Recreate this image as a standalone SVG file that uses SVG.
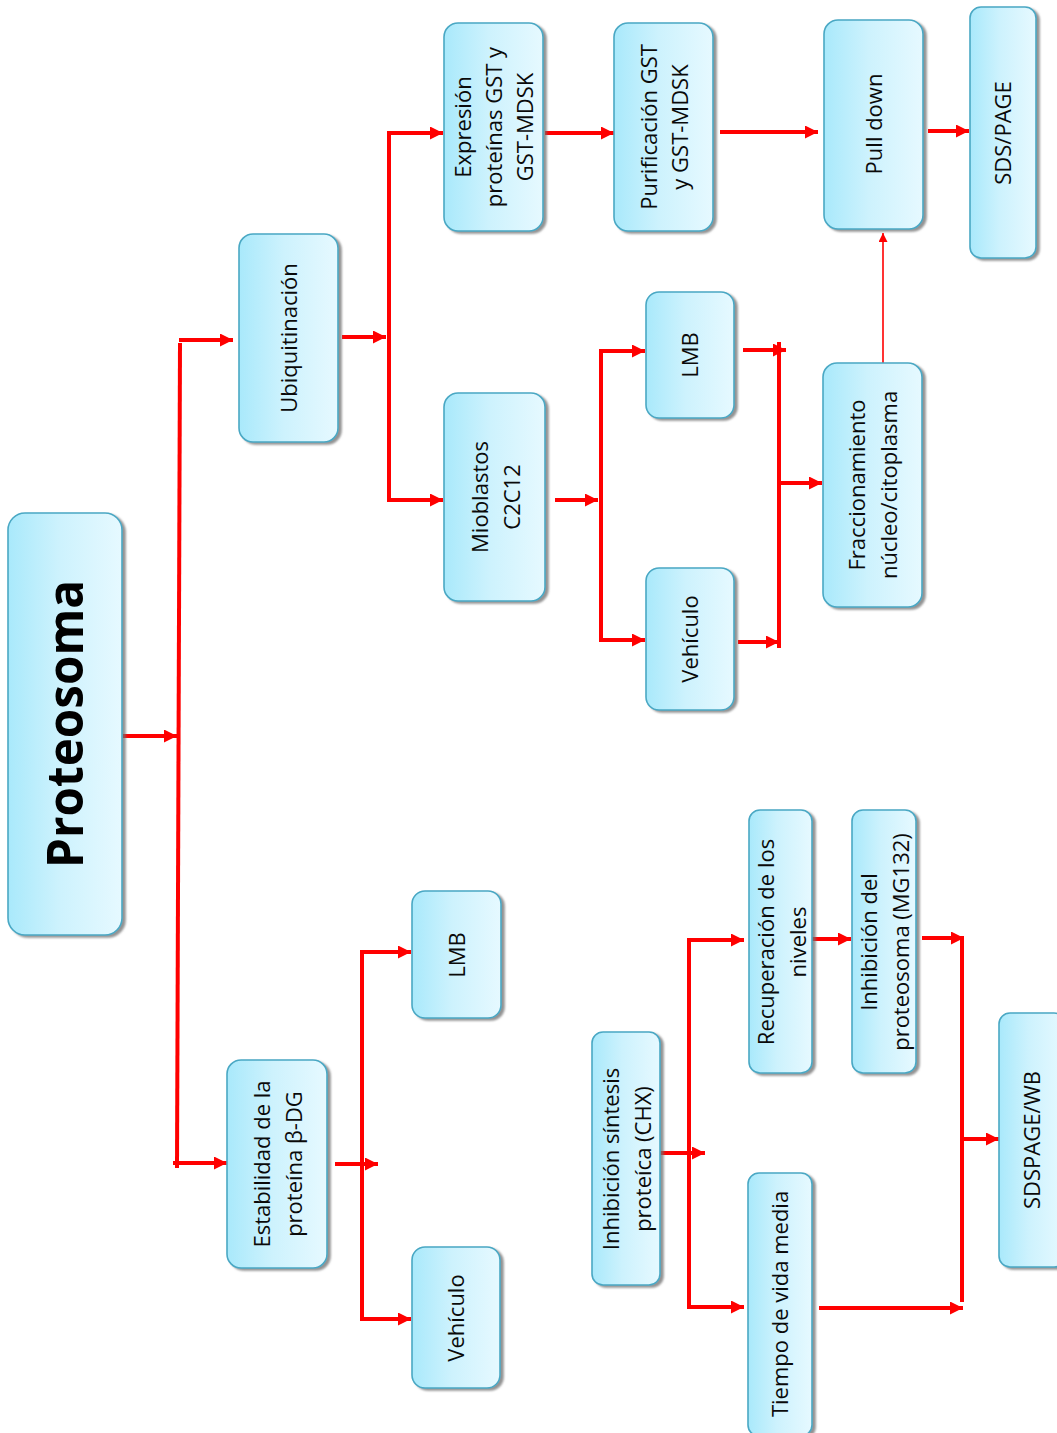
<svg xmlns="http://www.w3.org/2000/svg" width="1057" height="1433" viewBox="0 0 1057 1433">
<defs>
<linearGradient id="g" x1="0" y1="0" x2="1" y2="0">
<stop offset="0" stop-color="#a9e9fb"/>
<stop offset="0.45" stop-color="#cdf2fd"/>
<stop offset="1" stop-color="#e6f9ff"/>
</linearGradient>
<filter id="sh" x="-10%" y="-10%" width="130%" height="130%">
<feDropShadow dx="3" dy="2" stdDeviation="1" flood-color="#6e6e6e" flood-opacity="0.75"/>
</filter>
<marker id="ah" viewBox="0 0 14 14" refX="14" refY="7" markerWidth="14" markerHeight="13" markerUnits="userSpaceOnUse" orient="auto">
<path d="M0,0 L14,7 L0,14 z" fill="#ff0000"/>
</marker>
<marker id="ahs" viewBox="0 0 10 10" refX="10" refY="5" markerWidth="9" markerHeight="9" markerUnits="userSpaceOnUse" orient="auto">
<path d="M0,0 L10,5 L0,10 z" fill="#ff0000"/>
</marker>
</defs>
<style>
.box{fill:url(#g);stroke:#4aa8c4;stroke-width:1.6;filter:url(#sh)}
.t{font-family:"Open Sans","Noto Sans","DejaVu Sans",sans-serif;font-size:22px;fill:#0a0a0a;text-anchor:middle}
.tb{font-family:"Open Sans","Noto Sans","DejaVu Sans",sans-serif;font-size:50px;font-weight:bold;fill:#000;text-anchor:middle}
.c{fill:none;stroke:#ff0000;stroke-width:4}
.ca{fill:none;stroke:#ff0000;stroke-width:4;marker-end:url(#ah)}
.cs{fill:none;stroke:#ff0000;stroke-width:1.6;marker-end:url(#ahs)}
</style>

<g id="connectors">
<path class="ca" d="M123,736 H177"/>
<path class="c" d="M180,343 L177,1168"/>
<path class="ca" d="M179,340 H233"/>
<path class="ca" d="M173,1163 H227"/>
<path class="ca" d="M342,337 H386"/>
<path class="ca" d="M389,502 V133 H443"/>
<path class="ca" d="M389,300 V500 H443"/>
<path class="ca" d="M545,133 H614"/>
<path class="ca" d="M720,132 H818"/>
<path class="ca" d="M928,131 H969"/>
<path class="ca" d="M555,500 H598"/>
<path class="ca" d="M601,500 V351 H645"/>
<path class="ca" d="M601,500 V640 H645"/>
<path class="ca" d="M743,350 H786"/>
<path class="c" d="M779,342 V648"/>
<path class="ca" d="M738,642 H779"/>
<path class="ca" d="M779,483 H822"/>
<path class="cs" d="M883,363 V233"/>
<path class="ca" d="M335,1164 H378"/>
<path class="ca" d="M362,1164 V952 H411"/>
<path class="ca" d="M362,1164 V1319 H411"/>
<path class="ca" d="M660,1153 H705"/>
<path class="ca" d="M689,1153 V940 H744"/>
<path class="ca" d="M689,1153 V1307 H744"/>
<path class="ca" d="M812,939 H851"/>
<path class="ca" d="M922,938 H964"/>
<path class="c" d="M962,936 V1302"/>
<path class="ca" d="M819,1308 H963"/>
<path class="ca" d="M962,1139 H999"/>
</g>

<g id="proteosoma">
<rect class="box" x="8" y="513" width="114" height="422" rx="17"/>
<text class="tb" transform="translate(65,724) rotate(-90)" y="18" textLength="288" lengthAdjust="spacingAndGlyphs">Proteosoma</text>
</g>

<g id="ubiquitinacion">
<rect class="box" x="239" y="234" width="99" height="208" rx="14"/>
<text class="t" transform="translate(289,338) rotate(-90)" y="8">Ubiquitinación</text>
</g>

<g id="estabilidad">
<rect class="box" x="227" y="1060" width="100" height="208" rx="14"/>
<text class="t" transform="translate(278,1164) rotate(-90)"><tspan x="0" y="-8">Estabilidad de la</tspan><tspan x="0" y="24">proteína β-DG</tspan></text>
</g>

<g id="expresion">
<rect class="box" x="444" y="23" width="99" height="208" rx="14"/>
<text class="t" transform="translate(494,127) rotate(-90)"><tspan x="0" y="-23">Expresión</tspan><tspan x="0" y="8">proteínas GST y</tspan><tspan x="0" y="39">GST-MDSK</tspan></text>
</g>

<g id="purificacion">
<rect class="box" x="614" y="23" width="99" height="208" rx="14"/>
<text class="t" transform="translate(665,127) rotate(-90)"><tspan x="0" y="-8">Purificación GST</tspan><tspan x="0" y="23">y GST-MDSK</tspan></text>
</g>

<g id="pulldown">
<rect class="box" x="824" y="20" width="99" height="209" rx="14"/>
<text class="t" transform="translate(874,124) rotate(-90)" y="8">Pull down</text>
</g>

<g id="sdspage">
<rect class="box" x="970" y="7" width="66" height="251" rx="11"/>
<text class="t" transform="translate(1003,133) rotate(-90)" y="8">SDS/PAGE</text>
</g>

<g id="mioblastos">
<rect class="box" x="444" y="393" width="101" height="208" rx="14"/>
<text class="t" transform="translate(496,497) rotate(-90)"><tspan x="0" y="-8">Mioblastos</tspan><tspan x="0" y="24">C2C12</tspan></text>
</g>

<g id="lmb-top">
<rect class="box" x="646" y="292" width="88" height="126" rx="13"/>
<text class="t" transform="translate(690,355) rotate(-90)" y="8">LMB</text>
</g>

<g id="vehiculo-top">
<rect class="box" x="646" y="568" width="88" height="142" rx="13"/>
<text class="t" transform="translate(690,639) rotate(-90)" y="8">Vehículo</text>
</g>

<g id="fraccionamiento">
<rect class="box" x="823" y="363" width="99" height="244" rx="14"/>
<text class="t" transform="translate(874,485) rotate(-90)"><tspan x="0" y="-9">Fraccionamiento</tspan><tspan x="0" y="23">núcleo/citoplasma</tspan></text>
</g>

<g id="lmb-bottom">
<rect class="box" x="412" y="891" width="89" height="127" rx="13"/>
<text class="t" transform="translate(457,955) rotate(-90)" y="8">LMB</text>
</g>

<g id="vehiculo-bottom">
<rect class="box" x="412" y="1247" width="88" height="141" rx="13"/>
<text class="t" transform="translate(456,1318) rotate(-90)" y="8">Vehículo</text>
</g>

<g id="inhibicion-sintesis">
<rect class="box" x="592" y="1032" width="68" height="253" rx="11"/>
<text class="t" transform="translate(627,1159) rotate(-90)"><tspan x="0" y="-8">Inhibición síntesis</tspan><tspan x="0" y="24">proteíca (CHX)</tspan></text>
</g>

<g id="recuperacion">
<rect class="box" x="749" y="810" width="63" height="263" rx="11"/>
<text class="t" transform="translate(782,942) rotate(-90)"><tspan x="0" y="-8">Recuperación de los</tspan><tspan x="0" y="24">niveles</tspan></text>
</g>

<g id="inhibicion-proteosoma">
<rect class="box" x="852" y="810" width="64" height="263" rx="11"/>
<text class="t" transform="translate(885,942) rotate(-90)"><tspan x="0" y="-8">Inhibición del</tspan><tspan x="0" y="24">proteosoma (MG132)</tspan></text>
</g>

<g id="tiempo">
<rect class="box" x="748" y="1173" width="64" height="263" rx="11"/>
<text class="t" transform="translate(780,1304) rotate(-90)" y="8">Tiempo de vida media</text>
</g>

<g id="sdspage-wb">
<rect class="box" x="999" y="1013" width="66" height="254" rx="11"/>
<text class="t" transform="translate(1032,1140) rotate(-90)" y="8">SDSPAGE/WB</text>
</g>
</svg>
